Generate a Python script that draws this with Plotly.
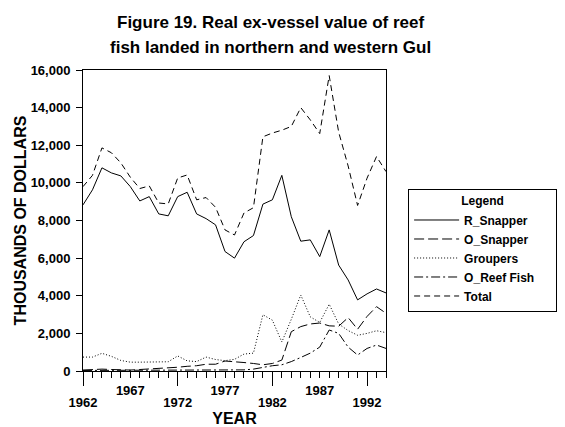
import plotly.graph_objects as go

years = list(range(1962, 1995))

r_snapper = [8830, 9630, 10800, 10530, 10370, 9800, 9040, 9270, 8350, 8250,
             9270, 9500, 8350, 8100, 7770, 6350, 6000, 6870, 7200, 8870,
             9100, 10400, 8200, 6900, 6970, 6080, 7500, 5630, 4840, 3780,
             4100, 4360, 4150]
o_snapper = [50, 80, 100, 80, 50, 50, 80, 100, 120, 150,
             200, 250, 280, 360, 360, 530, 500, 450, 400, 330,
             400, 580, 2090, 2360, 2500, 2550, 2400, 2380, 2840, 2220,
             2900, 3420, 3070]
groupers = [740, 740, 940, 780, 560, 470, 470, 470, 470, 490,
            800, 540, 500, 740, 610, 550, 620, 900, 950, 2990,
            2700, 1540, 2750, 4040, 2880, 2580, 3550, 2500, 2150, 1900,
            2000, 2140, 2040]
o_reef = [30, 30, 50, 30, 30, 30, 30, 40, 30, 40,
          50, 40, 30, 40, 50, 40, 50, 60, 100, 200,
          280, 330, 500, 720, 950, 1270, 2180, 2000, 1270, 850,
          1200, 1380, 1200]
total = [9800, 10400, 11860, 11600, 11060, 10300, 9700, 9840, 8930, 8880,
         10260, 10420, 9100, 9220, 8700, 7500, 7230, 8400, 8680, 12450,
         12650, 12800, 13000, 14000, 13350, 12620, 15700, 12700, 10900, 8800,
         10250, 11400, 10600]

series = [
    ("R_Snapper", r_snapper, "solid"),
    ("O_Snapper", o_snapper, "10px,4px"),
    ("Groupers", groupers, "1px,2px"),
    ("O_Reef Fish" + "\u00a0" * 5, o_reef, "9px,3px,2px,3px"),
    ("Total", total, "6px,4px"),
]

fnt = "Liberation Sans, Arial, sans-serif"

fig = go.Figure()
for name, vals, dash in series:
    fig.add_trace(go.Scatter(x=years, y=vals, name=name, mode="lines",
                             line=dict(color="black", width=1, dash=dash)))

# invisible trace so the second x axis (upper label row) is drawn
fig.add_trace(go.Scatter(x=[1967, 1977, 1987], y=[None, None, None],
                         xaxis="x2", showlegend=False, hoverinfo="skip"))

title_font = dict(size=17, family=fnt, weight="bold")

# the page body adds an 8px margin, so the figure is 8px smaller
fig.update_layout(
    width=557, height=419,
    margin=dict(l=75, r=179, t=62, b=56, autoexpand=False),
    paper_bgcolor="white", plot_bgcolor="white",
    font=dict(family=fnt, size=13, color="black", weight="bold"),
    showlegend=True,
    legend=dict(x=1.073, xanchor="left", y=0.605, yanchor="top",
                bordercolor="black", borderwidth=1, bgcolor="white",
                font=dict(size=12, family=fnt, weight="bold"),
                title=dict(text="Legend", side="top center",
                           font=dict(size=12, family=fnt, weight="bold")),
                itemwidth=45, tracegroupgap=0),
    xaxis=dict(range=[1962, 1994], tickvals=[1962, 1972, 1982, 1992],
               ticks="outside", ticklen=14, tickcolor="black",
               ticklabelstandoff=5, automargin=False,
               minor=dict(dtick=1, tick0=1962, ticks="outside", ticklen=6,
                          tickcolor="black"),
               showline=True, linecolor="black", mirror=True,
               showgrid=False, zeroline=False,
               title=dict(text="YEAR", font=dict(size=16), standoff=10)),
    xaxis2=dict(range=[1962, 1994], overlaying="x", side="bottom", anchor="y",
                tickvals=[1967, 1977, 1987], ticks="", ticklabelstandoff=10,
                automargin=False,
                showline=False, showgrid=False, zeroline=False),
    yaxis=dict(range=[0, 16000], tickvals=list(range(0, 16001, 2000)),
               tickformat=",", ticks="outside", ticklen=6, tickcolor="black",
               ticklabelstandoff=3, automargin=False,
               showline=True, linecolor="black", mirror=True,
               showgrid=False, zeroline=False),
    annotations=[
        dict(text="Figure 19. Real ex-vessel value of reef",
             xref="paper", yref="paper", x=0.62, y=1.159,
             xanchor="center", yanchor="middle", showarrow=False,
             font=title_font),
        dict(text="fish landed in northern and western Gul",
             xref="paper", yref="paper", x=0.62, y=1.076,
             xanchor="center", yanchor="middle", showarrow=False,
             font=title_font),
        dict(text="THOUSANDS OF DOLLARS", textangle=-90,
             xref="paper", yref="paper", x=-0.205, y=0.5,
             xanchor="center", yanchor="middle", showarrow=False,
             font=dict(size=16, family=fnt, weight="bold")),
    ],
)

fig.write_html("out.html")
